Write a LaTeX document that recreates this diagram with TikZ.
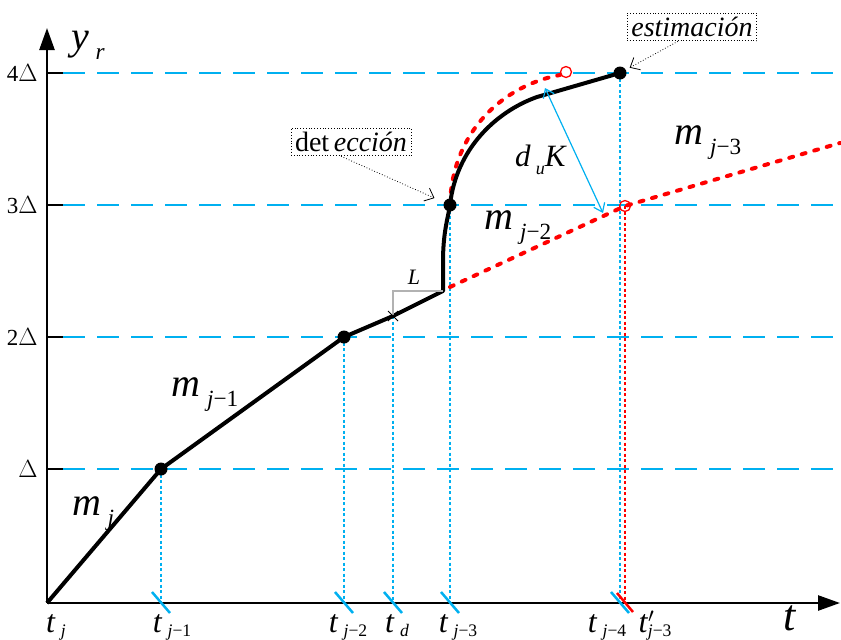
\documentclass[tikz,border=0pt]{standalone}
\usepackage{fontspec}
\setmainfont{Liberation Serif}
\usepackage{xcolor}
\usetikzlibrary{arrows.meta}
\definecolor{levelblue}{RGB}{0,176,240}
\newcommand\lbl[2]{\textit{#1}\,\raisebox{-0.25em}{\scalebox{0.58}{\itshape #2}}}
\newcommand\tlbl[2]{\textit{#1}\,\raisebox{-0.15em}{\scalebox{0.55}{\itshape #2}}}

\begin{document}
\begin{tikzpicture}[x=1pt,y=-1pt,>=Latex,
  level/.style={levelblue,line width=2.6pt,dash pattern=on 22pt off 12pt},
  drop/.style={levelblue,line width=2.2pt,dash pattern=on 3pt off 2.5pt},
  reddrop/.style={red,line width=2.2pt,dash pattern=on 3pt off 2.5pt},
  reddot/.style={red,line width=4pt,line cap=round,dash pattern=on 4pt off 9pt},
  curve/.style={line width=4pt,line join=round},
  dot/.style={circle,fill=black,inner sep=0pt,minimum size=13pt},
  ring/.style={circle,draw=red,line width=1.3pt,inner sep=0pt,minimum size=11pt},
  callout/.style={draw,dotted,thick,inner sep=4pt,font=\fontsize{28}{30}\selectfont},
  pointer/.style={dotted,thick,-{Straight Barb[length=8pt,width=14pt]}},
  big/.style={font=\fontsize{40}{42}\selectfont},
  ticklbl/.style={anchor=base,font=\fontsize{32}{34}\selectfont}]

  \useasboundingbox (0,0) rectangle (841,640);

  % key points
  \coordinate (O) at (47,603);
  \coordinate (p1) at (161,469);
  \coordinate (p2) at (344,337);
  \coordinate (pd) at (393,316);
  \coordinate (pk) at (443,291);
  \coordinate (p3) at (450,205);
  \coordinate (pb) at (537,97);
  \coordinate (p4) at (620,73);
  \coordinate (q4) at (566,72);
  \coordinate (q3) at (625,206);

  % levels
  \foreach \k/\y in {/469,2/337,3/205,4/73}{
    \draw[line width=2.5pt] (47,\y) -- (63,\y);
    \draw[level] (63,\y) -- (835,\y);
    \node[anchor=east,font=\fontsize{23}{25}\selectfont] at (41,\y) {\k$\Delta$};
  }

  % drops to the time axis
  \draw[drop] (p1) -- (161,603);
  \draw[drop] (p2) -- (344,603);
  \draw[drop] (pd) -- (393,603);
  \draw[drop] (p3) -- (450,603);
  \draw[drop] (p4) -- (620,603);
  \draw[reddrop] (q3) -- (625,603);

  % axes
  \draw[line width=2.5pt,-{Triangle[length=22pt,width=15pt]}] (O) -- (47,28);
  \draw[line width=2.5pt,-{Triangle[length=22pt,width=15pt]}] (O) -- (840,603);

  % ticks
  \foreach \x in {161,344,393,450,620}
    \draw[levelblue,line width=2.5pt] (\x-9,592) -- (\x+9,613);
  \draw[red,line width=2.5pt] (625-8,593) -- (625+8,612);

  % estimated branches
  \draw[reddot] (450,287) -- (q3) -- (840,143);
  \draw[reddot] (p3) .. controls (452,130) and (505,85) .. (560,75);

  % signal
  \draw[curve] (O) -- (p1) -- (p2) -- (pd) -- (pk) -- (443,262)
    .. controls (443,232) and (448,218) .. (p3)
    .. controls (456,150) and (495,112) .. (pb) -- (p4);

  % delay L
  \draw[gray!60,line width=1.2pt] (pd) -- (393,291) -- (pk);
  \draw[thick] (pd) +(-5,-5) -- +(5,5) (pd) +(-5,5) -- +(5,-5);
  \node[font=\fontsize{22}{24}\selectfont\itshape] at (414,277) {L};

  % points
  \foreach \p in {p1,p2,p3,p4}
    \node[dot] at (\p) {};
  \node[ring] at (q4) {};
  \node[ring] at (q3) {};

  % distance
  \coordinate (du1) at (545,88);
  \coordinate (du2) at (603,213);
  \draw[levelblue,line width=1.2pt,{Straight Barb[length=8pt,width=12pt]}-{Straight Barb[length=8pt,width=12pt]}] (du1) -- (du2);
  \node[font=\fontsize{31}{33}\selectfont] at (541,160) {\lbl{d}{u}\textit{K}};

  % callouts
  \node[callout] (det) at (351,142) {det\,\textit{ección}};
  \draw[pointer,shorten >=17pt] ([xshift=-10pt]det.south) -- (p3);
  \node[callout] (est) at (692,27) {\textit{estimación}};
  \draw[pointer,shorten >=11pt] ([xshift=-14pt]est.south) -- (p4);

  % slopes
  \node[big] at (93,514) {\lbl{m}{j}};
  \node[big] at (205,395) {\lbl{m}{j\upshape −1}};
  \node[big] at (518,228) {\lbl{m}{j\upshape −2}};
  \node[big] at (708,143) {\lbl{m}{j\upshape −3}};

  % axis labels
  \node[big] at (88,45) {\lbl{y}{r}};
  \node[anchor=base,inner sep=0pt,font=\fontsize{44}{46}\selectfont\itshape] at (790,630) {t};
  \node[ticklbl] at (56,632) {\tlbl{t}{j}};
  \node[ticklbl] at (172,632) {\tlbl{t}{j\upshape −1}};
  \node[ticklbl] at (348,632) {\tlbl{t}{j\upshape −2}};
  \node[ticklbl] at (397,632) {\tlbl{t}{d}};
  \node[ticklbl] at (458,632) {\tlbl{t}{j\upshape −3}};
  \node[ticklbl] at (607,632) {\tlbl{t}{j\upshape −4}};
  \node[ticklbl] at (655,632) {\textit{t}$'$\hspace{-0.2em}\raisebox{-0.15em}{\scalebox{0.55}{\itshape j\upshape −3}}};
\end{tikzpicture}
\end{document}
